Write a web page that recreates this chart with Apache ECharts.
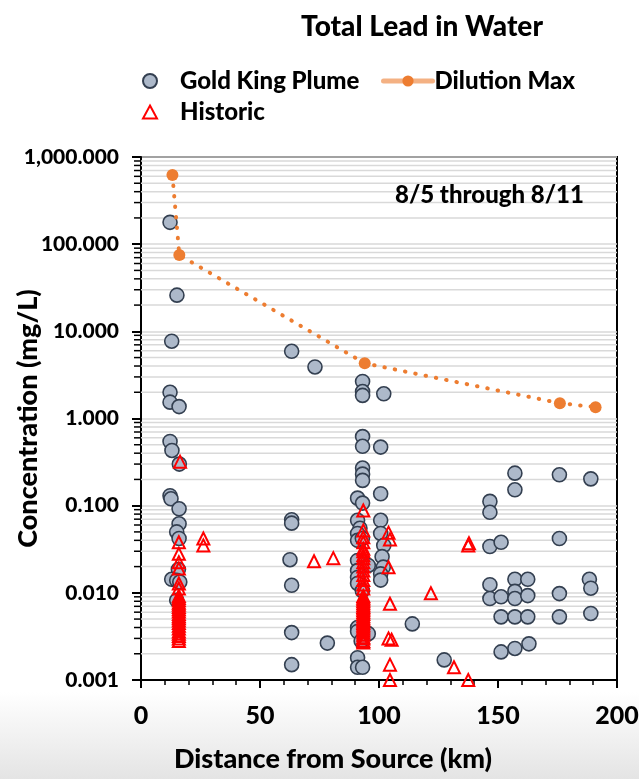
<!DOCTYPE html>
<html><head><meta charset="utf-8">
<script src="https://cdn.jsdelivr.net/npm/echarts@6/dist/echarts.min.js"></script>
<style>html,body{margin:0;padding:0;background:#fff}#c{width:639px;height:779px}</style>
</head><body><div id="c"></div>
<script>
// ---- data (distance km, concentration mg/L) ----
const goldKing = [
  [12.2,178],[15.1,26],[12.9,7.7],[12.2,2.0],[12.2,1.54],[16,1.37],[12.2,0.545],[13,0.43],[16.1,0.30],
  [12.2,0.13],[12.6,0.12],[16,0.092],[16,0.062],[15,0.050],[16,0.042],[15.7,0.0185],[12.9,0.0143],
  [15,0.0139],[16.3,0.0133],[15,0.0082],
  [63.3,5.9],[63.3,0.069],[63.3,0.063],[62.6,0.024],[63.3,0.0122],[63.3,0.0035],[63.3,0.0015],
  [73.1,3.9],[78.3,0.00265],
  [93.1,2.66],[93.1,2.04],[93.1,1.84],[93.1,0.62],[93.1,0.48],[93.1,0.27],[93.1,0.23],[93.1,0.195],
  [91,0.122],[93.1,0.107],[91,0.068],[92,0.055],[91,0.048],[91,0.040],[93,0.042],[91,0.0235],[95.5,0.0206],
  [91,0.018],[91,0.015],[91,0.0128],[93,0.0106],[91,0.0040],[91,0.0036],[95.5,0.0034],[92.5,0.0028],
  [91,0.0018],[91,0.0014],[93.1,0.0014],
  [102,1.92],[100.7,0.47],[100.7,0.137],[100.7,0.068],[100.7,0.048],[102,0.035],[101.3,0.026],
  [101.8,0.0197],[100.7,0.0165],[100.7,0.014],
  [114,0.0044],[127.4,0.0017],
  [146.6,0.112],[146.6,0.084],[146.6,0.034],[146.6,0.0124],[146.6,0.0086],
  [151.3,0.038],[151.3,0.009],[151.3,0.0053],[151.3,0.0021],
  [157.1,0.236],[157.1,0.152],[157.1,0.0143],[157.1,0.0104],[157.1,0.0086],[157.1,0.0053],[157.1,0.0023],
  [162.5,0.0143],[162.5,0.0093],[162.5,0.0053],[163,0.0026],
  [175.8,0.226],[175.8,0.042],[175.8,0.0098],[175.8,0.0053],
  [189,0.203],[188.4,0.0143],[189,0.0113],[189,0.0058]
];
const historic = [
  [16.4,0.32],[26.2,0.042],[26.2,0.035],
  [15.9,0.038],[15.9,0.028],[15.9,0.0225],[15.9,0.019],[15.9,0.0128],[15.9,0.0112],
  [15.9,0.0092],[15.9,0.0087],[15.9,0.0082],[15.9,0.0077],[15.9,0.0073],[15.9,0.0069],[15.9,0.0065],
  [15.9,0.0061],[15.9,0.0057],[15.9,0.0054],[15.9,0.0051],[15.9,0.0048],[15.9,0.0045],[15.9,0.0042],
  [15.9,0.0039],[15.9,0.0036],[15.9,0.0034],[15.9,0.0032],[15.9,0.0030],[15.9,0.0028],
  [72.7,0.023],[80.8,0.025],
  [93.4,0.088],[93.4,0.052],[93.4,0.0435],[93.4,0.038],[93.4,0.032],[93.4,0.030],[93.4,0.027],
  [93.4,0.025],[93.4,0.0225],[93.4,0.020],[93.4,0.018],[93.4,0.016],[93.4,0.014],[93.4,0.0125],[93.4,0.0112],
  [93.4,0.0092],[93.4,0.0088],[93.4,0.0084],[93.4,0.0080],[93.4,0.0076],[93.4,0.0072],[93.4,0.0069],
  [93.4,0.0066],[93.4,0.0063],[93.4,0.0060],[93.4,0.0057],[93.4,0.0054],[93.4,0.0051],[93.4,0.0049],
  [93.4,0.0047],[93.4,0.0045],[93.4,0.0043],[93.4,0.0041],[93.4,0.0039],[93.4,0.0037],[93.4,0.0035],
  [93.4,0.0033],[93.4,0.0031],[93.4,0.0030],[93.4,0.0028],[93.4,0.0027],
  [104,0.049],[104.6,0.041],[104,0.0197],[104.6,0.0075],[104,0.0030],[105.3,0.0029],[104.6,0.0015],[104.6,0.0010],
  [121.8,0.0099],[131.5,0.0014],[137.5,0.035],[137.8,0.037],[137.5,0.0010]
];
const dilutionMax = [[13.2,620],[16.1,75],[94,4.3],[176,1.5],[191,1.35]];
const yTickLabels = ['0.001','0.010','0.100','1.000','10.000','100.000','1,000.000'];
const xTickLabels = ['0','50','100','150','200'];

// minor log gridline values (2..9 of each decade)
const minorVals = [];
for (let e = -3; e < 3; e++) for (let m = 2; m <= 9; m++) minorVals.push([0, m * Math.pow(10, e)]);

const FONT = 'Lato';
const chart = echarts.init(document.getElementById('c'), null, {renderer: 'canvas'});
const txt = {fontFamily: FONT, fontWeight: 900, color: '#000'};

chart.setOption({
  animation: false,
  backgroundColor: '#fff',
  title: {
    text: 'Total Lead in Water', left: 417, top: 8, textAlign: 'center',
    textStyle: Object.assign({fontSize: 28}, txt)
  },
  graphic: [
    {type: 'rect', z: -10, silent: true, shape: {x: 0, y: 692, width: 639, height: 87},
     style: {fill: new echarts.graphic.LinearGradient(0, 0, 0, 1, [
       {offset: 0, color: 'rgba(255,255,255,1)'}, {offset: 1, color: '#E4E4E4'}])}},
    {type: 'text', left: 395, top: 183, z: 100,
     style: {text: '8/5 through 8/11', fontFamily: FONT, fontWeight: 900, fontSize: 24, fill: '#000'}}
  ],
  legend: [
    {data: ['Gold King Plume'], left: 137, top: 64, itemWidth: 14, itemHeight: 14,
     textStyle: Object.assign({fontSize: 24, padding: [0, 0, 0, 18]}, txt)},
    {data: [{name: 'Dilution Max', lineStyle: {type: 'solid', color: '#F4B183', width: 5}, itemStyle: {color: '#ED7D31'}}],
     left: 376, top: 64, itemWidth: 49, itemHeight: 14,
     textStyle: Object.assign({fontSize: 24, padding: [0, 0, 0, -3]}, txt)},
    {data: ['Historic'], left: 137, top: 95, itemWidth: 14, itemHeight: 13,
     textStyle: Object.assign({fontSize: 24, padding: [0, 0, 0, 18]}, txt)}
  ],
  grid: {left: 141, right: 22, top: 157, bottom: 99, show: true, borderColor: '#000', borderWidth: 2,
         containLabel: false, outerBoundsMode: 'none'},
  xAxis: {
    type: 'value', min: 0, max: 200, interval: 50,
    name: 'Distance from Source (km)', nameLocation: 'middle', nameGap: 66, nameMoveOverlap: false,
    nameTextStyle: Object.assign({fontSize: 27, padding: [0, 92, 0, 0]}, txt),
    axisLine: {show: true, lineStyle: {color: '#000', width: 2}},
    axisTick: {show: true, length: 8, lineStyle: {color: '#000', width: 2}},
    minorTick: {show: true, splitNumber: 5, length: 5, lineStyle: {color: '#000', width: 1.5}},
    splitLine: {show: false},
    axisLabel: Object.assign({fontSize: 25, margin: 23,
      formatter: v => xTickLabels[Math.round(v / 50)]}, txt)
  },
  yAxis: {
    type: 'log', logBase: 10, min: 0.001, max: 1000,
    name: 'Concentration (mg/L)', nameLocation: 'middle', nameGap: 99, nameMoveOverlap: false,
    nameTextStyle: Object.assign({fontSize: 27}, txt),
    axisLine: {show: true, lineStyle: {color: '#000', width: 2}},
    axisTick: {show: true, length: 9, lineStyle: {color: '#000', width: 2}},
    minorTick: {show: false},
    splitLine: {show: true, lineStyle: {color: '#D9D9D9', width: 1.5}},
    axisLabel: Object.assign({fontSize: 21, margin: 22,
      formatter: v => yTickLabels[Math.round(Math.log10(v)) + 3]}, txt)
  },
  series: [
    {
      type: 'custom', name: 'minor', silent: true, z: 1, clip: false,
      data: minorVals, encode: {x: 0, y: 1},
      renderItem: function (params, api) {
        const cs = params.coordSys;
        const y = api.coord([0, api.value(1)])[1];
        return {type: 'group', children: [
          {type: 'line', shape: {x1: cs.x, y1: y, x2: cs.x + cs.width, y2: y}, style: {stroke: '#D9D9D9', lineWidth: 1.5}},
          {type: 'line', shape: {x1: cs.x - 7, y1: y, x2: cs.x, y2: y}, style: {stroke: '#000', lineWidth: 1.5}}
        ]};
      }
    },
    {
      name: 'Gold King Plume', type: 'scatter', data: goldKing, z: 3, clip: false,
      symbol: 'circle', symbolSize: 14,
      itemStyle: {color: '#ADB9CA', borderColor: '#333F50', borderWidth: 1.6, opacity: 1}
    },
    {
      name: 'Historic', type: 'scatter', data: historic, z: 4, clip: false,
      symbol: 'triangle', symbolSize: 12,
      itemStyle: {color: 'rgba(255,255,255,0)', borderColor: '#FF0000', borderWidth: 2, opacity: 1}
    },
    {
      name: 'Dilution Max', type: 'line', data: dilutionMax, z: 5,
      symbol: 'circle', symbolSize: 12, showSymbol: true,
      itemStyle: {color: '#ED7D31', borderWidth: 0},
      lineStyle: {color: '#ED7D31', width: 4, type: [0.5, 10], cap: 'round'}
    }
  ]
});
</script>
</body></html>
